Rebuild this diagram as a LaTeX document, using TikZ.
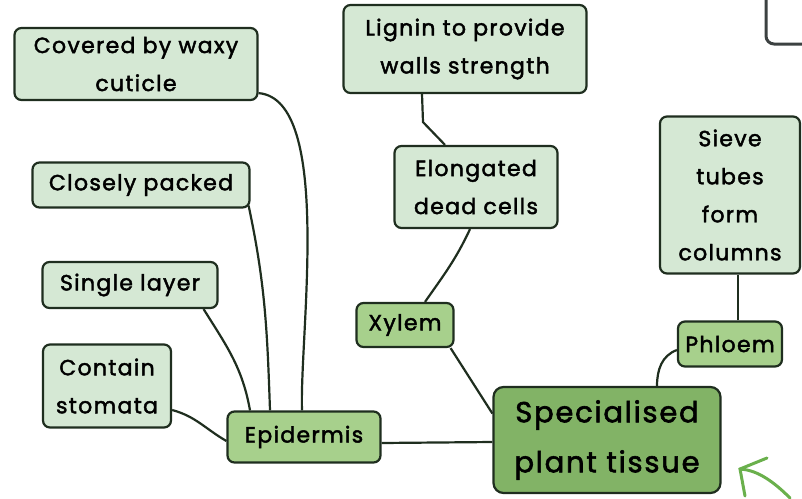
\documentclass[tikz,border=0pt]{standalone}
\usepackage{fontspec}
\setmainfont[LetterSpace=6,FakeBold=2]{Poppins}
\usetikzlibrary{calc}
\definecolor{leaffill}{HTML}{D5E8D4}
\definecolor{hubfill}{HTML}{A7D08C}
\definecolor{rootfill}{HTML}{82B366}
\definecolor{edgeink}{HTML}{1F2E1F}
\definecolor{penink}{HTML}{6AB04C}
\definecolor{frameink}{HTML}{3C4141}
\tikzset{
  leaf/.style={draw=edgeink, fill=leaffill, line width=2.2pt, rounded corners=7pt, align=center, inner sep=0pt, font=\fontsize{22}{38}\selectfont},
  hub/.style={leaf, fill=hubfill},
  root/.style={leaf, fill=rootfill, rounded corners=10pt, font=\fontsize{29}{50}\selectfont},
  link/.style={draw=edgeink, line width=2.2pt}
}
\begin{document}
\begin{tikzpicture}[x=1pt,y=-1pt]
\useasboundingbox (0,0) rectangle (802,498);
\clip (0,0) rectangle (802,498);
% ---- corner frame, cut off ----
\draw[frameink, line width=3pt, rounded corners=8pt] (766,-40) rectangle (840,44);
% ---- nodes ----
\node[root, minimum width=227pt, minimum height=106pt] (tissue) at (607,440) {Specialised\\plant tissue};
\node[hub, minimum width=153pt, minimum height=51pt] (epi) at (304,437) {Epidermis};
\node[hub, minimum width=97pt, minimum height=44pt] (xylem) at (405,325) {Xylem};
\node[hub, minimum width=104pt, minimum height=45pt] (phloem) at (730,344) {Phloem};
\node[leaf, minimum width=243pt, minimum height=72pt] (waxy) at (136,64) {Covered by waxy\\cuticle};
\node[leaf, minimum width=217pt, minimum height=45pt] (packed) at (141,185) {Closely packed};
\node[leaf, minimum width=175pt, minimum height=46pt] (layer) at (130,285) {Single layer};
\node[leaf, minimum width=128pt, minimum height=83pt] (stomata) at (107,386) {Contain\\stomata};
\node[leaf, minimum width=243pt, minimum height=88pt] (lignin) at (465,49) {Lignin to provide\\walls strength};
\node[leaf, minimum width=163pt, minimum height=82pt] (dead) at (476,187) {Elongated\\dead cells};
\node[leaf, minimum width=140pt, minimum height=157pt] (sieve) at (730,195) {Sieve\\tubes\\form\\columns};
% ---- connectors ----
\draw[link] ([yshift=8pt]waxy.south east) to[out=-5, in=92, looseness=0.6] ([xshift=-2pt]epi.north);
\draw[link] ([xshift=-2pt,yshift=3pt]packed.south east) to[out=-78, in=92] ([xshift=-34pt]epi.north);
\draw[link] ([xshift=-15pt]layer.south east) to[out=-58, in=100] ([xshift=-54pt]epi.north);
\draw[link] ([yshift=-24pt]stomata.east) to[out=-15, in=150] ([yshift=-4pt]epi.west);
\draw[link] ([yshift=-6pt]epi.east) -- ([yshift=-2pt]tissue.west);
\draw[link] ([xshift=-4pt]xylem.south east) -- (tissue.167);
\draw[link] ([xshift=20pt]xylem.north) to[out=55, in=-115] ([xshift=-6pt]dead.south);
\draw[link] ([xshift=-43pt]lignin.south) -- ++(1,28) -- ([xshift=-31pt]dead.north);
\draw[link] ([yshift=-6pt]phloem.west) to[out=200, in=90] ([xshift=50pt]tissue.north);
\draw[link] ([xshift=8pt]phloem.north) -- ([xshift=8pt]sieve.south);
% ---- pen stroke ----
\draw[penink, line width=3pt, line cap=round] (790,498) .. controls (770,478) and (755,470) .. (740,469);
\draw[penink, line width=3pt, line cap=round] (767,458) -- (740,469) -- (745,496);
\end{tikzpicture}
\end{document}
